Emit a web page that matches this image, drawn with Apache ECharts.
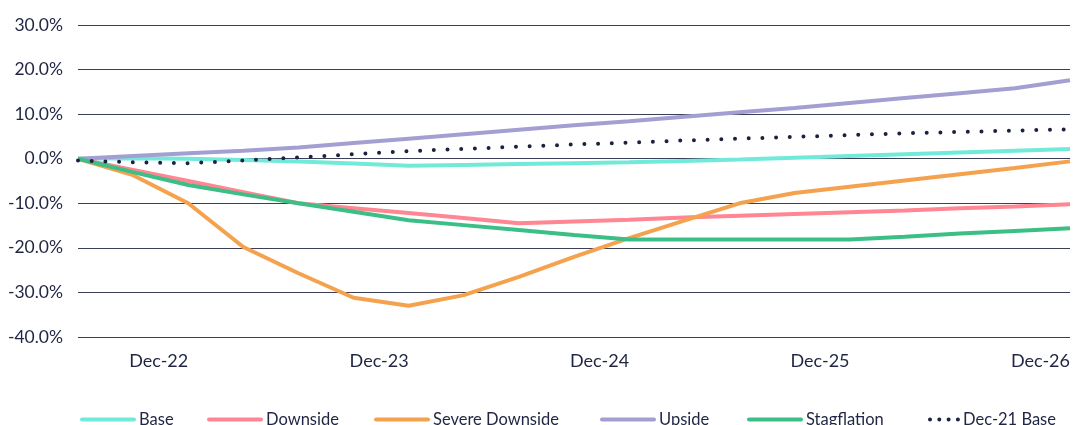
<!DOCTYPE html>
<html>
<head>
<meta charset="utf-8">
<script src="https://cdn.jsdelivr.net/npm/echarts@6/dist/echarts.min.js"></script>
<style>
	html, body { margin: 0; padding: 0; background: #fff; }
	#chart { width: 1073px; height: 425px; }
</style>
</head>
<body>
<div id="chart"></div>
<script>
	'use strict';

	// quarterly points, labels only on December
	var quarters = ['Jun-22', 'Sep-22', 'Dec-22', 'Mar-23', 'Jun-23', 'Sep-23', 'Dec-23', 'Mar-24', 'Jun-24', 'Sep-24',
		'Dec-24', 'Mar-25', 'Jun-25', 'Sep-25', 'Dec-25', 'Mar-26', 'Jun-26', 'Sep-26', 'Dec-26'];

	var base = [0, 0.1, 0, -0.3, -0.6, -1.1, -1.6, -1.4, -1.2, -1.0, -0.8, -0.5, -0.2, 0.2, 0.6, 1.0, 1.4, 1.8, 2.2];
	var downside = [0, -2.5, -5.0, -7.5, -10.0, -11.1, -12.2, -13.3, -14.5, -14.1, -13.7, -13.2, -12.8, -12.4, -12.0, -11.6, -11.1, -10.7, -10.2];
	var severeDownside = [0, -3.7, -10.0, -19.8, -25.7, -31.2, -33.0, -30.6, -26.5, -22.0, -17.8, -13.9, -10.0, -7.7, -6.3, -4.9, -3.5, -2.1, -0.6];
	var upside = [0, 0.6, 1.2, 1.8, 2.5, 3.5, 4.5, 5.5, 6.5, 7.5, 8.4, 9.4, 10.4, 11.4, 12.5, 13.6, 14.7, 15.8, 17.6];
	var stagflation = [0, -3.0, -5.9, -8.0, -10.0, -11.9, -13.8, -14.9, -16.0, -17.1, -18.1, -18.1, -18.1, -18.1, -18.1, -17.5, -16.8, -16.2, -15.6];
	var dec21Base = [-0.4, -0.8, -1.0, -0.4, 0.3, 1.0, 1.7, 2.2, 2.7, 3.2, 3.6, 4.1, 4.5, 4.9, 5.3, 5.7, 6.0, 6.3, 6.6];

	var yTicks = [-40, -30, -20, -10, 0, 10, 20, 30];

	var names = ['Base', 'Downside', 'Severe Downside', 'Upside', 'Stagflation', 'Dec-21 Base'];
	var colors = ['#72ead9', '#ff8692', '#f4a24e', '#a39fd2', '#3bbf86', '#1b2240'];

	var textColor = '#1f2542';
	var font = 'Lato';

	function line(i, data) {
		var dotted = i === 5;
		return {
			name: names[i],
			type: 'line',
			data: data,
			symbol: 'none',
			lineStyle: dotted ? {
				color: colors[i], width: 4, type: [0, 13.7], cap: 'round'
			} : {
				color: colors[i], width: 4
			},
			itemStyle: { color: colors[i] }
		};
	}

	// one legend per item so each sits where the original put it
	var legendLeft = [80, 207, 374, 600, 747, 928];
	var legends = names.map(function (name, i) {
		var dotted = i === 5;
		return {
			top: 411,
			left: legendLeft[i],
			padding: 0,
			itemWidth: dotted ? 28 : 52,
			itemHeight: 14,
			itemStyle: { opacity: 0 },
			lineStyle: dotted ?
				{ width: 4, type: [0, 9.3], cap: 'round' } :
				{ width: 4, cap: 'round' },
			textStyle: { color: textColor, fontFamily: font, fontSize: 16.5 },
			data: [name]
		};
	});

	var chart = echarts.init(document.getElementById('chart'), null, { renderer: 'canvas' });

	chart.setOption({
		animation: false,
		grid: { left: 78, right: 0, top: 25, bottom: 88, containLabel: false },
		legend: legends,
		xAxis: {
			type: 'category',
			data: quarters,
			boundaryGap: false,
			axisLine: { show: false },
			axisTick: { show: false },
			splitLine: { show: false },
			axisLabel: {
				interval: function (idx, val) { return val.indexOf('Dec') === 0; },
				align: 'right',
				margin: 15,
				color: textColor,
				fontFamily: font,
				fontSize: 18
			}
		},
		yAxis: {
			type: 'value',
			min: yTicks[0],
			max: yTicks[yTicks.length - 1],
			interval: 10,
			axisLine: { show: false },
			axisTick: { show: false },
			splitLine: { show: true, lineStyle: { color: '#3b4058', width: 1 } },
			axisLabel: {
				margin: 15,
				color: textColor,
				fontFamily: font,
				fontSize: 17.5,
				formatter: function (v) { return v.toFixed(1) + '%'; }
			}
		},
		series: [
			line(0, base),
			line(1, downside),
			line(2, severeDownside),
			line(3, upside),
			line(4, stagflation),
			line(5, dec21Base)
		]
	});
</script>
</body>
</html>
